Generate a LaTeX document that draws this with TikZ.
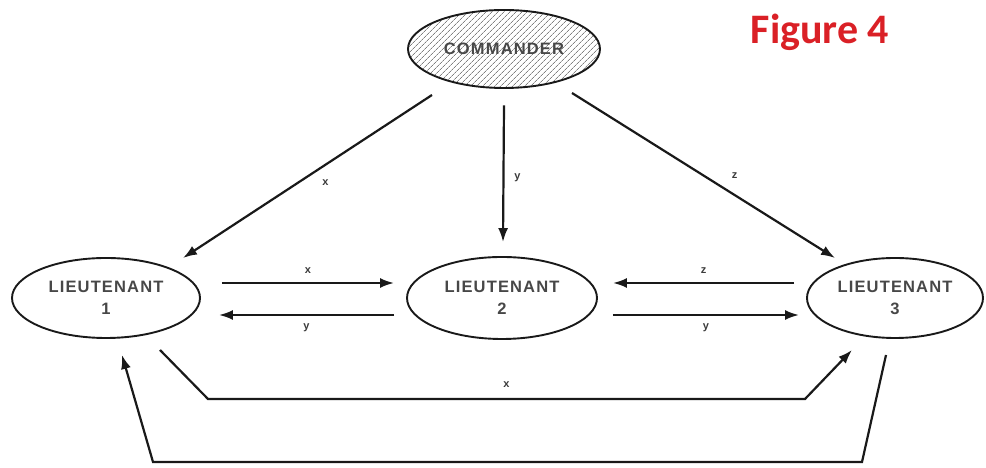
\documentclass[tikz,border=0pt]{standalone}
\usepackage{fontspec}
\setmainfont{Liberation Sans}
\newfontfamily\namefont[LetterSpace=7]{Liberation Sans}
\newfontfamily\figfont{Carlito}
\usetikzlibrary{arrows.meta,calc,shapes.geometric,patterns.meta}
\definecolor{figred}{RGB}{218,32,38}
\definecolor{ink}{RGB}{25,25,25}
\tikzset{
  party/.style={ellipse, draw=ink, line width=1.9pt, inner sep=0pt,
    align=center, font=\namefont\bfseries\fontsize{16.5}{22}\selectfont, text=ink!80},
  msg/.style={draw=ink, line width=2.2pt, line join=miter,
    -{Latex[length=14pt,width=10pt]}},
  val/.style={font=\bfseries\fontsize{11}{13}\selectfont, text=ink!85, inner sep=1pt}
}
\begin{document}
\begin{tikzpicture}[x=1pt,y=1pt]
\useasboundingbox (0,0) rectangle (986,468);

% the four parties
\node[party, minimum width=192pt, minimum height=78pt,
  pattern={Lines[angle=45,distance=4pt,line width=0.8pt]}, pattern color=ink!55]
  (cmd) at (504,419) {COMMANDER};
\node[party, minimum width=188pt, minimum height=80pt] (l1) at (106,170) {LIEUTENANT\\1};
\node[party, minimum width=190pt, minimum height=82pt] (l2) at (502,170) {LIEUTENANT\\2};
\node[party, minimum width=176pt, minimum height=80pt] (l3) at (895,170) {LIEUTENANT\\3};

% caption
\node[font=\figfont\bfseries\fontsize{42}{46}\selectfont, text=figred] (cap) at (820,436) {Figure 4};

% orders from the commander
\draw[msg] ($(cmd)+(-72,-46)$) -- node[val, pos=0.52, xshift=23pt, yshift=-3pt] {x} ($(l1)+(77,40)$);
\draw[msg] ($(cmd.south)+(0,-17)$) -- node[val, pos=0.53, xshift=14pt] {y} ($(l2.north)+(1,14)$);
\draw[msg] ($(cmd)+(68,-44)$) -- node[val, pos=0.5, xshift=31pt] {z} ($(l3)+(-60,40)$);

% relayed values between lieutenants 1 and 2
\draw[msg] ($(l1.east)+(21,15)$) -- node[val, above=7pt] {x} ($(l2.west)+(-12,15)$);
\draw[msg] ($(l2.west)+(-12,-17)$) -- node[val, below=7pt] {y} ($(l1.east)+(18,-17)$);

% relayed values between lieutenants 2 and 3
\draw[msg] ($(l3.west)+(-12,15)$) -- node[val, above=7pt] {z} ($(l2.east)+(15,15)$);
\draw[msg] ($(l2.east)+(15,-17)$) -- node[val, below=7pt] {y} ($(l3.west)+(-7,-17)$);

% lieutenant 1 to lieutenant 3, routed below
\coordinate (xa) at (208,69);
\coordinate (xb) at (805,69);
\draw[msg] ($(l1)+(54,-52)$) -- (xa) -- node[val, above=9pt] {x} (xb) -- ($(l3)+(-43,-52)$);

% lieutenant 3 to lieutenant 1, routed further below
\coordinate (za) at (862,6);
\coordinate (zb) at (153,6);
\draw[msg] ($(l3)+(-9,-57)$) -- (za) -- (zb) -- ($(l1)+(16,-57)$);
\end{tikzpicture}
\end{document}
